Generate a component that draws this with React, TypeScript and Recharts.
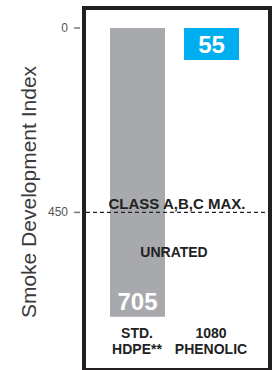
import {
  Bar,
  BarChart,
  LabelList,
  ReferenceArea,
  ReferenceLine,
  XAxis,
  YAxis,
  Cell,
} from "recharts";

const categories = ["STD. HDPE**", "1080 PHENOLIC"];
const smokeIndex = [705, 55];
const barColors = ["#a7a9ac", "#00aeef"];
const yTicks = [0, 450];
const classMax = 450;
const unratedTop = 705;

const data = categories.map((name, i) => ({ name, smoke: smokeIndex[i] }));

const sans = "'Liberation Sans', Arial, sans-serif";

function YTick({ x, y, payload }: { x?: number; y?: number; payload?: { value: number } }) {
  const px = x ?? 0;
  const py = y ?? 0;
  return (
    <g>
      <text x={px - 10} y={py + 4} textAnchor="end" fontSize={12} fill="#555" fontFamily={sans}>
        {payload?.value}
      </text>
      <line x1={px - 4} x2={px + 2} y1={py} y2={py} stroke="#777" strokeWidth={1.5} />
    </g>
  );
}

function XTick({ x, y, payload }: { x?: number; y?: number; payload?: { value: string } }) {
  const value = payload?.value ?? "";
  const i = value.indexOf(" ");
  const first = value.slice(0, i);
  const second = value.slice(i + 1);
  return (
    <text x={x} y={y} textAnchor="middle" fontSize={14} fontWeight="bold" fill="#222" fontFamily={sans}>
      <tspan x={x} dy={15}>{first}</tspan>
      <tspan x={x} dy={16}>{second}</tspan>
    </text>
  );
}

export default function App() {
  return (
    <div style={{ position: "absolute", left: 0, top: 0, width: 275, height: 370, background: "#fff" }}>
      <BarChart
        width={275}
        height={370}
        data={data}
        margin={{ top: 28, right: 7, left: 0, bottom: 0 }}
      >
        <XAxis
          dataKey="name"
          axisLine={false}
          tickLine={false}
          tickSize={0}
          tickMargin={0}
          height={47}
          padding={{ left: 14, right: 20 }}
          tick={<XTick />}
          interval={0}
        />
        <YAxis
          reversed
          domain={[0, 720]}
          ticks={yTicks}
          width={86}
          axisLine={false}
          tickLine={false}
          tick={<YTick />}
        />
        <ReferenceArea
          y1={classMax}
          y2={unratedTop}
          fill="none"
          stroke="none"
          ifOverflow="visible"
          label={{
            value: "UNRATED",
            position: "insideTop",
            offset: 35,
            fontSize: 14,
            fontWeight: "bold",
            fill: "#222",
            fontFamily: sans,
          }}
        />
        <Bar dataKey="smoke" barSize={55} minPointSize={32} isAnimationActive={false}>
          {data.map((d, i) => (
            <Cell key={d.name} fill={barColors[i]} />
          ))}
          <LabelList
            dataKey="smoke"
            position="insideTop"
            offset={7}
            fill="#fff"
            fontSize={24}
            fontWeight="bold"
            fontFamily={sans}
          />
        </Bar>
        <ReferenceLine
          y={classMax}
          stroke="#222"
          strokeWidth={1.3}
          strokeDasharray="4 3"
          label={{
            value: "CLASS A,B,C MAX.",
            position: "top",
            offset: 3,
            fontSize: 15,
            fontWeight: "bold",
            fill: "#222",
            fontFamily: sans,
          }}
        />
      </BarChart>
      <div
        style={{
          position: "absolute",
          left: 82,
          top: 6,
          width: 190,
          height: 366,
          border: "4px solid #231f20",
          boxSizing: "border-box",
          pointerEvents: "none",
        }}
      />
      <div
        style={{
          position: "absolute",
          left: 28,
          top: 192,
          transform: "translate(-50%, -50%) rotate(-90deg)",
          whiteSpace: "nowrap",
          fontFamily: sans,
          fontSize: 21,
          color: "#3a3a3a",
          lineHeight: 1,
        }}
      >
        Smoke Development Index
      </div>
    </div>
  );
}
